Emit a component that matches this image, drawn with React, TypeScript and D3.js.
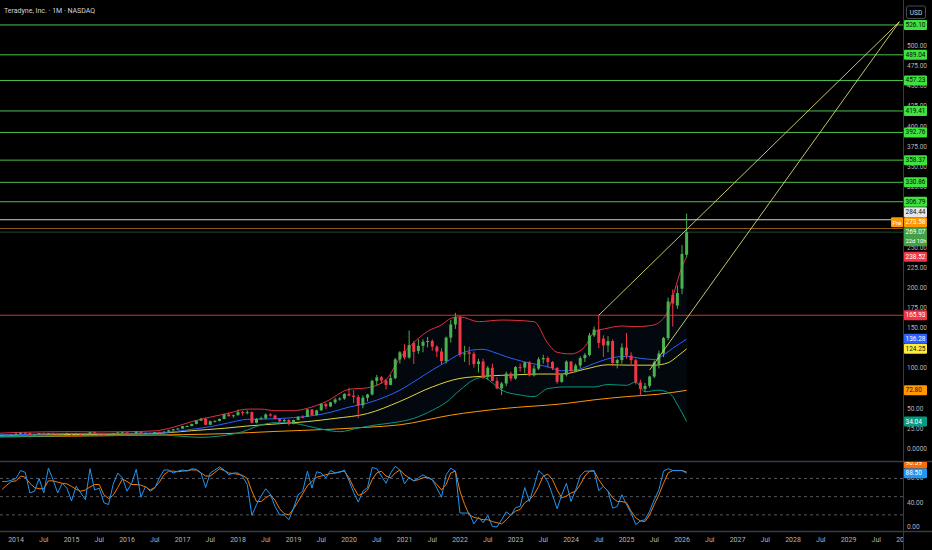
import React from "react";
import * as d3 from "d3";

// Teradyne monthly chart with Bollinger bands, two SMAs and a stochastic pane.

const W = 932;
const H = 550;
const PANE_RIGHT = 903;
const MAIN_BOTTOM = 461;
const STOCH_TOP = 462;
const STOCH_BOTTOM = 531;
const FONT = "Roboto, 'Noto Sans', sans-serif";

const title = "Teradyne, Inc. · 1M · NASDAQ";

// first candle month, then [open, high, low, close] per month
const firstCandle = "2013-09";
const candles: [number, number, number, number][] = [
  [15.0, 16.9, 14.9, 16.5], [16.5, 17.9, 16.2, 17.5], [17.5, 18.1, 16.8, 17.3], [17.3, 18.0, 16.9, 17.6],
  // 2014
  [17.6, 20.2, 17.2, 18.9], [18.9, 20.7, 18.3, 20.0], [20.0, 21.0, 18.8, 19.9], [19.9, 20.2, 17.1, 17.6],
  [17.6, 18.6, 17.0, 18.4], [18.4, 19.8, 18.2, 19.6], [19.6, 20.3, 18.1, 18.3], [18.3, 19.9, 18.0, 19.6],
  [19.6, 20.4, 19.1, 19.4], [19.4, 19.6, 16.9, 18.3], [18.3, 19.3, 17.9, 18.9], [18.9, 20.2, 18.1, 19.8],
  // 2015
  [19.8, 20.1, 17.6, 18.1], [18.1, 19.8, 17.9, 19.4], [19.4, 19.6, 17.6, 17.8], [17.8, 19.3, 17.6, 18.2],
  [18.2, 21.1, 18.0, 20.8], [20.8, 21.8, 19.2, 19.3], [19.3, 19.8, 17.5, 18.3], [18.3, 18.9, 16.0, 18.0],
  [18.0, 18.8, 17.1, 18.1], [18.1, 19.9, 17.2, 19.6], [19.6, 21.0, 19.3, 20.6], [20.6, 21.4, 19.9, 20.7],
  // 2016
  [20.7, 20.8, 17.6, 19.4], [19.4, 19.9, 17.8, 19.0], [19.0, 21.9, 18.8, 21.6], [21.6, 21.8, 18.6, 18.9],
  [18.9, 20.3, 18.5, 19.9], [19.9, 20.4, 18.6, 19.7], [19.7, 21.2, 19.4, 21.0], [21.0, 21.5, 20.3, 20.9],
  [20.9, 21.9, 20.6, 21.6], [21.6, 24.0, 21.1, 23.2], [23.2, 24.9, 22.0, 24.5], [24.5, 26.0, 24.0, 25.4],
  // 2017
  [25.4, 28.6, 25.0, 28.3], [28.3, 29.2, 27.4, 28.5], [28.5, 31.4, 28.2, 31.1], [31.1, 35.6, 30.5, 35.3],
  [35.3, 38.7, 34.6, 37.4], [37.4, 39.0, 29.6, 30.0], [30.0, 35.2, 29.9, 34.5], [34.5, 35.5, 32.9, 34.9],
  [34.9, 37.5, 34.3, 37.3], [37.3, 43.6, 37.0, 42.9], [42.9, 45.6, 40.2, 40.7], [40.7, 42.5, 38.9, 41.9],
  // 2018
  [41.9, 49.0, 41.7, 45.8], [45.8, 47.6, 41.5, 45.6], [45.6, 48.0, 43.0, 45.7], [45.7, 46.5, 31.7, 32.6],
  [32.6, 38.4, 31.9, 37.4], [37.4, 40.3, 36.6, 38.1], [38.1, 44.1, 36.7, 42.9], [42.9, 44.3, 40.1, 41.5],
  [41.5, 42.6, 36.8, 37.2], [37.2, 38.5, 30.8, 34.5], [34.5, 37.6, 32.9, 36.0], [36.0, 37.0, 29.0, 31.4],
  // 2019
  [31.4, 36.4, 30.5, 35.9], [35.9, 40.8, 35.6, 40.0], [40.0, 41.9, 37.9, 39.8], [39.8, 49.6, 39.5, 49.0],
  [49.0, 49.6, 41.6, 42.0], [42.0, 48.6, 41.5, 47.9], [47.9, 57.0, 47.5, 55.8], [55.8, 57.2, 49.5, 52.8],
  [52.8, 58.5, 52.0, 57.9], [57.9, 63.5, 55.7, 61.4], [61.4, 64.1, 60.0, 62.6], [62.6, 69.3, 61.1, 68.2],
  // 2020
  [68.2, 76.0, 65.4, 66.3], [66.3, 73.0, 57.0, 64.6], [64.6, 67.0, 38.2, 54.2], [54.2, 66.5, 50.5, 63.6],
  [63.6, 68.5, 59.0, 67.6], [67.6, 86.0, 66.5, 84.5], [84.5, 92.0, 79.0, 88.9], [88.9, 90.5, 81.0, 85.0],
  [85.0, 87.0, 74.0, 79.5], [79.5, 92.0, 79.0, 87.9], [87.9, 113.0, 86.5, 111.2], [111.2, 121.5, 106.0, 119.9],
  // 2021
  [121.5, 130.0, 111.0, 113.5], [113.5, 147.0, 112.0, 128.9], [131.5, 134.0, 105.5, 120.5], [121.7, 136.0, 118.0, 128.0],
  [128.0, 136.0, 120.0, 133.0], [133.0, 139.0, 126.0, 134.0], [134.0, 136.0, 122.0, 127.0], [127.0, 128.5, 114.0, 121.0],
  [121.0, 125.0, 105.0, 109.0], [109.0, 139.5, 106.0, 138.2], [138.2, 160.0, 132.0, 154.5], [154.5, 169.0, 149.0, 163.5],
  // 2022
  [163.5, 165.0, 114.0, 117.4], [117.4, 128.0, 108.0, 118.6], [120.0, 127.0, 104.0, 118.2], [118.2, 121.0, 101.0, 105.3],
  [105.3, 112.0, 95.0, 108.6], [108.6, 112.0, 87.0, 89.6], [89.6, 103.0, 86.0, 100.8], [100.8, 106.0, 84.0, 84.5],
  [84.5, 89.0, 74.0, 75.2], [75.2, 83.0, 67.0, 81.3], [81.3, 96.0, 78.0, 93.6], [93.6, 96.0, 84.0, 87.4],
  // 2023
  [87.4, 103.0, 86.0, 101.6], [101.6, 106.0, 96.0, 101.0], [101.0, 108.0, 94.0, 107.5], [107.5, 109.0, 90.0, 91.3],
  [91.3, 104.0, 90.0, 99.8], [99.8, 114.0, 98.0, 111.3], [111.3, 117.0, 106.0, 112.9], [112.9, 115.0, 101.0, 108.0],
  [108.0, 109.0, 98.0, 100.5], [100.5, 102.0, 81.0, 83.3], [83.3, 94.0, 82.0, 92.0], [92.0, 110.0, 90.0, 108.5],
  // 2024
  [108.5, 109.0, 94.0, 96.6], [96.6, 106.0, 95.0, 103.6], [103.6, 115.0, 100.0, 112.8], [112.8, 119.0, 108.0, 116.7],
  [116.7, 144.0, 115.0, 140.9], [140.9, 152.0, 139.0, 148.3], [148.3, 165.9, 125.0, 131.6], [137.0, 141.0, 114.0, 128.5],
  [128.5, 140.0, 120.0, 133.9], [133.9, 136.0, 103.0, 106.7], [106.7, 112.0, 100.0, 110.3], [110.3, 131.0, 106.0, 125.9],
  // 2025
  [125.9, 144.0, 112.0, 116.0], [116.0, 120.0, 103.0, 110.2], [110.2, 112.0, 80.0, 82.6], [82.6, 86.0, 65.8, 74.6],
  [74.6, 82.0, 71.0, 78.3], [78.3, 91.0, 76.0, 89.9], [89.9, 110.0, 88.0, 107.4], [105.0, 122.0, 100.0, 118.5],
  [118.5, 139.0, 114.0, 137.6], [137.6, 188.0, 135.0, 183.0], [191.0, 198.0, 152.0, 180.5], [178.0, 203.0, 174.0, 193.5],
  // 2026
  [199.0, 253.0, 192.0, 242.0], [241.0, 292.0, 238.0, 269.07],
];

// Bollinger bands (at sample months)
const bbUpper: [string, number][] = [
  ["2013-09", 19.5], ["2014-01", 20.5], ["2014-07", 21.3], ["2015-01", 21.5], ["2015-07", 21.2],
  ["2016-01", 21.5], ["2016-07", 22.5], ["2016-11", 27], ["2017-03", 34], ["2017-07", 39.6],
  ["2017-11", 44.5], ["2018-03", 49.5], ["2018-06", 49.5], ["2018-09", 47.5], ["2019-01", 47.5],
  ["2019-04", 50.5], ["2019-08", 58.7], ["2020-01", 74], ["2020-05", 76], ["2020-09", 86],
  ["2020-12", 113], ["2021-03", 132], ["2021-06", 146], ["2021-09", 154], ["2021-11", 162],
  ["2022-01", 164], ["2022-05", 158], ["2022-10", 160], ["2023-05", 158], ["2023-08", 131],
  ["2023-10", 120], ["2024-01", 118], ["2024-04", 127], ["2024-06", 145], ["2024-09", 150],
  ["2024-12", 152.6], ["2025-03", 151.8], ["2025-07", 154], ["2025-08", 156.8], ["2025-10", 172],
  ["2025-11", 189], ["2026-01", 226], ["2026-02", 238.52],
];
const bbBasis: [string, number][] = [
  ["2013-09", 17.5], ["2014-01", 17.8], ["2014-07", 18.8], ["2015-01", 19.2], ["2015-07", 19.0],
  ["2016-01", 19.4], ["2016-07", 19.8], ["2016-11", 21.5], ["2017-03", 24.4], ["2017-07", 27.7],
  ["2017-11", 32.5], ["2018-03", 36.8], ["2018-09", 37.5], ["2019-01", 39], ["2019-04", 40.5],
  ["2019-09", 45.5], ["2020-01", 52], ["2020-05", 57], ["2020-09", 65], ["2020-12", 73],
  ["2021-04", 87], ["2021-07", 98], ["2021-10", 108], ["2022-01", 118], ["2022-04", 123],
  ["2022-06", 123.7], ["2022-08", 120.7], ["2022-11", 114.5], ["2023-03", 108], ["2023-08", 102],
  ["2023-11", 97], ["2024-02", 98], ["2024-06", 106], ["2024-09", 112], ["2025-01", 115],
  ["2025-04", 112.5], ["2025-07", 111], ["2025-09", 116.6], ["2025-11", 125], ["2026-02", 136.28],
];
const bbLower: [string, number][] = [
  ["2013-09", 15.5], ["2014-07", 16], ["2015-01", 16.8], ["2015-07", 16.5], ["2016-01", 17],
  ["2016-08", 17.5], ["2016-11", 16.5], ["2017-05", 14.5], ["2017-09", 16], ["2018-02", 21.5],
  ["2018-06", 29.8], ["2018-09", 32.6], ["2019-01", 31.9], ["2019-04", 28.5], ["2019-08", 23.6],
  ["2019-11", 21.5], ["2020-03", 26], ["2020-07", 30], ["2020-11", 33], ["2021-03", 38],
  ["2021-07", 48], ["2021-10", 58], ["2022-01", 73], ["2022-04", 86], ["2022-06", 89],
  ["2022-08", 82], ["2022-10", 73], ["2023-02", 67], ["2023-05", 65], ["2023-08", 75],
  ["2023-12", 77], ["2024-06", 77], ["2024-09", 80], ["2025-01", 79], ["2025-03", 83],
  ["2025-05", 71], ["2025-08", 73], ["2025-10", 70], ["2025-11", 65], ["2025-12", 55],
  ["2026-01", 45], ["2026-02", 34.04],
];
const smaYellow: [string, number][] = [
  ["2013-09", 17], ["2015-01", 18], ["2016-01", 18.5], ["2016-08", 19.5], ["2017-03", 22.7],
  ["2017-10", 25.7], ["2018-03", 28.5], ["2018-09", 31], ["2019-04", 34], ["2019-10", 38],
  ["2020-05", 44], ["2020-12", 59], ["2021-07", 77], ["2022-01", 87.6], ["2022-07", 90.6],
  ["2023-01", 92], ["2023-06", 93], ["2023-11", 93], ["2024-04", 99], ["2024-09", 104.5],
  ["2025-02", 104], ["2025-07", 104], ["2025-10", 107], ["2025-12", 115], ["2026-02", 124.25],
];
const smaOrange: [string, number][] = [
  ["2013-09", 15], ["2015-01", 16], ["2016-01", 16.8], ["2017-01", 17.8], ["2017-10", 19],
  ["2018-09", 21.8], ["2019-09", 24.5], ["2020-05", 27], ["2020-12", 30], ["2021-11", 42],
  ["2022-10", 50], ["2023-12", 56.6], ["2024-06", 61], ["2025-01", 65], ["2025-08", 68],
  ["2026-02", 72.8],
];

// stochastic %K / %D, one value per month from stochFirst
const stochFirst = "2013-10";
const stochK = [
  75, 75, 77, 80, 93, 90, 56, 59, 80, 56, 97, 78, 56,
  72, 64, 43, 67, 56, 45, 96, 61, 64, 40,
  37, 70, 89, 81, 59, 72, 95, 49, 67, 59,
  64, 81, 94, 94, 89, 92, 94, 92, 96, 95,
  89, 65, 89, 94, 99, 94, 86, 89, 89, 83,
  70, 19, 37, 51, 63, 54, 34, 20, 20, 12,
  31, 53, 59, 92, 64, 91, 89, 81, 93, 89,
  90, 94, 76, 57, 41, 59, 65, 98, 96, 84,
  72, 89, 100, 94, 71, 82, 76, 81, 86, 81,
  78, 64, 49, 86, 97, 92, 23, 23, 23, 5,
  16, 7, 19, 1, 0, 12, 25, 19, 32, 34,
  65, 42, 67, 93, 86, 74, 53, 30, 53, 72,
  42, 61, 84, 92, 92, 93, 60, 67, 59, 31,
  34, 53, 37, 23, 4, 10, 12, 26, 45, 61,
  92, 96, 93, 93, 93, 88.5,
];
const stochD = [
  62, 69, 75, 76, 84, 82, 72, 65, 63, 63, 76, 76, 74,
  72, 71, 67, 62, 59, 61, 66, 70, 70, 53,
  47, 52, 65, 79, 75, 70, 70, 69, 66, 61,
  65, 74, 86, 92, 92, 91, 92, 93, 94, 94,
  89, 84, 84, 90, 96, 93, 89, 88, 87, 85,
  80, 59, 42, 42, 48, 53, 44, 30, 22, 20,
  30, 42, 55, 68, 75, 82, 84, 86, 88, 89,
  91, 92, 81, 65, 52, 55, 61, 78, 89, 92,
  84, 81, 89, 94, 86, 81, 76, 78, 81, 82,
  78, 70, 61, 70, 89, 92, 59, 37, 20, 16,
  14, 12, 12, 9, 7, 5, 12, 20, 26, 29,
  40, 45, 53, 67, 84, 87, 78, 61, 48, 51,
  56, 59, 70, 84, 92, 92, 78, 67, 59, 48,
  42, 42, 40, 26, 15, 10, 9, 20, 37, 53,
  72, 89, 93, 93, 93, 90.59,
];

// drawings
const greenLevels = [526.1, 489.04, 457.23, 419.41, 392.76, 358.37, 330.86, 306.79];
const whiteLevel = 284.44;
const redLevel = 165.93;
const prePrice = 273.58;
const lastPrice = 269.07;
const countdown = "22d 10h";
const trendUpper: [string, number][] = [["2024-07", 165.93], ["2029-12", 530]];
const trendLower: [string, number][] = [["2025-06", 98], ["2029-12", 530]];

const priceTicks = [0, 25, 50, 75, 100, 125, 150, 175, 200, 225, 250, 275, 300, 325, 350, 375, 400, 425, 450, 475, 500];
const stochTicks = [0, 40, 80];
const stochGuides = [80, 50, 20];

const monthIdx = (s: string) => {
  const [yy, mm] = s.split("-").map(Number);
  return (yy - 2014) * 12 + (mm - 1);
};

type Tag = { v: number; bg: string; fg: string; sub?: string; pre?: boolean };
type PlacedTag = Tag & { top: number; h: number };

// push overlapping axis tags upward, bottom tag first
function layoutTags(tags: Tag[], scale: (v: number) => number): PlacedTag[] {
  const items = tags.map((t) => ({ ...t, top: scale(t.v) - 5, h: t.sub ? 19 : 10 }));
  items.sort((a, b) => b.top - a.top);
  for (let i = 1; i < items.length; i++) {
    const below = items[i - 1];
    const it = items[i];
    if (it.top + it.h > below.top) it.top = below.top - it.h;
  }
  return items;
}

// a tick label is dropped when a coloured tag hides it completely
const hiddenBy = (yy: number, tags: PlacedTag[]) =>
  [yy - 2.5, yy, yy + 2.5].every((p) => tags.some((t) => p >= t.top && p <= t.top + t.h));

export default function App() {
  const x = d3.scaleLinear().domain([0, 192]).range([16, 904]);
  const y = d3.scaleLinear().domain([0, 500]).range([449, 46]);
  const ys = d3.scaleLinear().domain([0, 100]).range([527, 466.3]);

  const c0 = monthIdx(firstCandle);
  const s0 = monthIdx(stochFirst);

  const curve = d3
    .line<[string, number]>()
    .x((d) => x(monthIdx(d[0])))
    .y((d) => y(d[1]))
    .curve(d3.curveMonotoneX);
  const straight = d3
    .line<[string, number]>()
    .x((d) => x(monthIdx(d[0])))
    .y((d) => y(d[1]));
  const bandFill = straight([...bbUpper, ...bbLower.slice().reverse()]) + "Z";

  const stochLine = d3
    .line<number>()
    .x((_, i) => x(s0 + i))
    .y((v) => ys(v));

  const mainTags = layoutTags(
    [
      ...greenLevels.map((v) => ({ v, bg: "#3fe23f", fg: "#0b0b0b" })),
      { v: whiteLevel, bg: "#e6e6e6", fg: "#111" },
      { v: prePrice, bg: "#ff9800", fg: "#fff", pre: true },
      { v: lastPrice, bg: "#43a047", fg: "#fff", sub: countdown },
      { v: 238.52, bg: "#f23645", fg: "#fff" },
      { v: redLevel, bg: "#f23645", fg: "#fff" },
      { v: 136.28, bg: "#2962ff", fg: "#fff" },
      { v: 124.25, bg: "#ffeb3b", fg: "#111" },
      { v: 72.8, bg: "#ff9800", fg: "#111" },
      { v: 34.04, bg: "#089981", fg: "#fff" },
    ],
    y
  );
  const stochTags = layoutTags(
    [
      { v: stochK[stochK.length - 1], bg: "#2196f3", fg: "#fff" },
      { v: stochD[stochD.length - 1], bg: "#ff6d00", fg: "#fff" },
    ],
    ys
  );

  const timeLabels = d3.range(0, 193, 6).map((m) => ({
    m,
    text: m % 12 === 0 ? String(2014 + m / 12) : "Jul",
  }));

  const axisText = "#b2b5be";

  return (
    <div style={{ position: "fixed", left: 0, top: 0, width: W, height: H, background: "#000" }}>
      <svg width={W} height={H} style={{ display: "block", fontFamily: FONT }}>
        <defs>
          <clipPath id="mainClip">
            <rect x={0} y={0} width={PANE_RIGHT} height={MAIN_BOTTOM} />
          </clipPath>
          <clipPath id="stochClip">
            <rect x={0} y={STOCH_TOP} width={PANE_RIGHT} height={STOCH_BOTTOM - STOCH_TOP} />
          </clipPath>
          <clipPath id="stochAxisClip">
            <rect x={PANE_RIGHT} y={STOCH_TOP} width={W - PANE_RIGHT} height={STOCH_BOTTOM - STOCH_TOP} />
          </clipPath>
          <clipPath id="timeClip">
            <rect x={0} y={STOCH_BOTTOM} width={PANE_RIGHT} height={H - STOCH_BOTTOM} />
          </clipPath>
        </defs>
        <rect width={W} height={H} fill="#000" />

        {/* main pane */}
        <g clipPath="url(#mainClip)">
          <path d={bandFill} fill="rgba(33,150,243,0.055)" />
          {greenLevels.map((v) => (
            <line key={v} x1={0} x2={PANE_RIGHT} y1={y(v)} y2={y(v)} stroke="#4cc04c" strokeWidth={1} />
          ))}
          <line x1={0} x2={PANE_RIGHT} y1={y(whiteLevel)} y2={y(whiteLevel)} stroke="#cfcfcf" strokeWidth={1} />
          <line x1={0} x2={PANE_RIGHT} y1={y(prePrice)} y2={y(prePrice)} stroke="#8a5a1a" strokeWidth={1} />
          <line x1={0} x2={PANE_RIGHT} y1={y(lastPrice)} y2={y(lastPrice)} stroke="#1f4d22" strokeWidth={1} />
          <line x1={0} x2={PANE_RIGHT} y1={y(redLevel)} y2={y(redLevel)} stroke="#d32f2f" strokeWidth={1} />

          <path d={curve(smaOrange) ?? ""} fill="none" stroke="#ff9800" strokeWidth={1} />
          <path d={curve(smaYellow) ?? ""} fill="none" stroke="#e3d33a" strokeWidth={1} />
          <path d={curve(bbLower) ?? ""} fill="none" stroke="#089981" strokeWidth={1} />
          <path d={curve(bbBasis) ?? ""} fill="none" stroke="#2962ff" strokeWidth={1} />
          <path d={curve(bbUpper) ?? ""} fill="none" stroke="#e0303f" strokeWidth={1} />

          {candles.map(([o, h, l, c], i) => {
            const cx = x(c0 + i);
            const up = c >= o;
            const col = up ? "#4caf50" : "#f23645";
            const top = y(Math.max(o, c));
            const bh = Math.max(1, y(Math.min(o, c)) - top);
            return (
              <g key={i}>
                <line x1={cx} x2={cx} y1={y(h)} y2={y(l)} stroke={col} strokeWidth={1} />
                <rect x={cx - 1.5} y={top} width={3} height={bh} fill={col} />
              </g>
            );
          })}

          <path d={straight(trendUpper) ?? ""} fill="none" stroke="#e8e27a" strokeOpacity={0.85} strokeWidth={1} />
          <path d={straight(trendLower) ?? ""} fill="none" stroke="#e8e27a" strokeOpacity={0.85} strokeWidth={1} />
        </g>

        <text x={4} y={13} fill="#d1d4dc" fontSize={7}>
          {title}
        </text>

        {/* stochastic pane */}
        <g clipPath="url(#stochClip)">
          {stochGuides.map((v) => (
            <line key={v} x1={0} x2={PANE_RIGHT} y1={ys(v)} y2={ys(v)} stroke="#787b86" strokeOpacity={0.7} strokeDasharray="3,3" />
          ))}
          <path d={stochLine(stochD) ?? ""} fill="none" stroke="#f57c00" strokeWidth={1} />
          <path d={stochLine(stochK) ?? ""} fill="none" stroke="#2196f3" strokeWidth={1} />
        </g>

        {/* separators */}
        <line x1={0} x2={W} y1={STOCH_TOP - 0.5} y2={STOCH_TOP - 0.5} stroke="#363a45" strokeWidth={1.5} />
        <line x1={0} x2={W} y1={STOCH_BOTTOM + 0.5} y2={STOCH_BOTTOM + 0.5} stroke="#363a45" strokeWidth={1.5} />
        <line x1={PANE_RIGHT + 0.5} x2={PANE_RIGHT + 0.5} y1={0} y2={H} stroke="#363a45" strokeWidth={1} />

        {/* price axis */}
        {priceTicks
          .filter((v) => !hiddenBy(y(v), mainTags))
          .map((v) => (
            <text key={v} x={907} y={y(v)} fill={axisText} fontSize={6.5} dominantBaseline="central">
              {v === 0 ? "0.0000" : v.toFixed(2)}
            </text>
          ))}
        {mainTags.map((t) => (
          <g key={t.v}>
            <rect x={904} y={t.top} width={23} height={t.h} fill={t.bg} rx={1} />
            <text x={905.5} y={t.top + 5} fill={t.fg} fontSize={6.5} dominantBaseline="central">
              {t.v.toFixed(2)}
            </text>
            {t.sub && (
              <text x={905.5} y={t.top + 14} fill={t.fg} fontSize={5.8} dominantBaseline="central">
                {t.sub}
              </text>
            )}
            {t.pre && (
              <g>
                <rect x={891} y={t.top} width={12} height={t.h} fill={t.bg} rx={1} />
                <text x={897} y={t.top + 5} fill="#fff" fontSize={6} textAnchor="middle" dominantBaseline="central">
                  Pre
                </text>
              </g>
            )}
          </g>
        ))}
        <rect x={906.5} y={6} width={19} height={12.5} rx={2} fill="#000" stroke="#5d606b" strokeWidth={0.8} />
        <text x={916} y={12.5} fill="#d1d4dc" fontSize={6.5} textAnchor="middle" dominantBaseline="central">
          USD
        </text>

        {/* stochastic axis */}
        {stochTicks
          .filter((v) => !hiddenBy(ys(v), stochTags))
          .map((v) => (
            <text key={v} x={907} y={ys(v)} fill={axisText} fontSize={6.5} dominantBaseline="central">
              {v.toFixed(2)}
            </text>
          ))}
        <g clipPath="url(#stochAxisClip)">
          {stochTags.map((t) => (
            <g key={t.v}>
              <rect x={904} y={t.top} width={23} height={t.h} fill={t.bg} rx={1} />
              <text x={905.5} y={t.top + 5} fill={t.fg} fontSize={6.5} dominantBaseline="central">
                {t.v.toFixed(2)}
              </text>
            </g>
          ))}
        </g>

        {/* time axis */}
        <g clipPath="url(#timeClip)">
          {timeLabels.map((t) => (
            <text key={t.m} x={x(t.m)} y={540} fill={axisText} fontSize={7} textAnchor="middle" dominantBaseline="central">
              {t.text}
            </text>
          ))}
        </g>
      </svg>
    </div>
  );
}
